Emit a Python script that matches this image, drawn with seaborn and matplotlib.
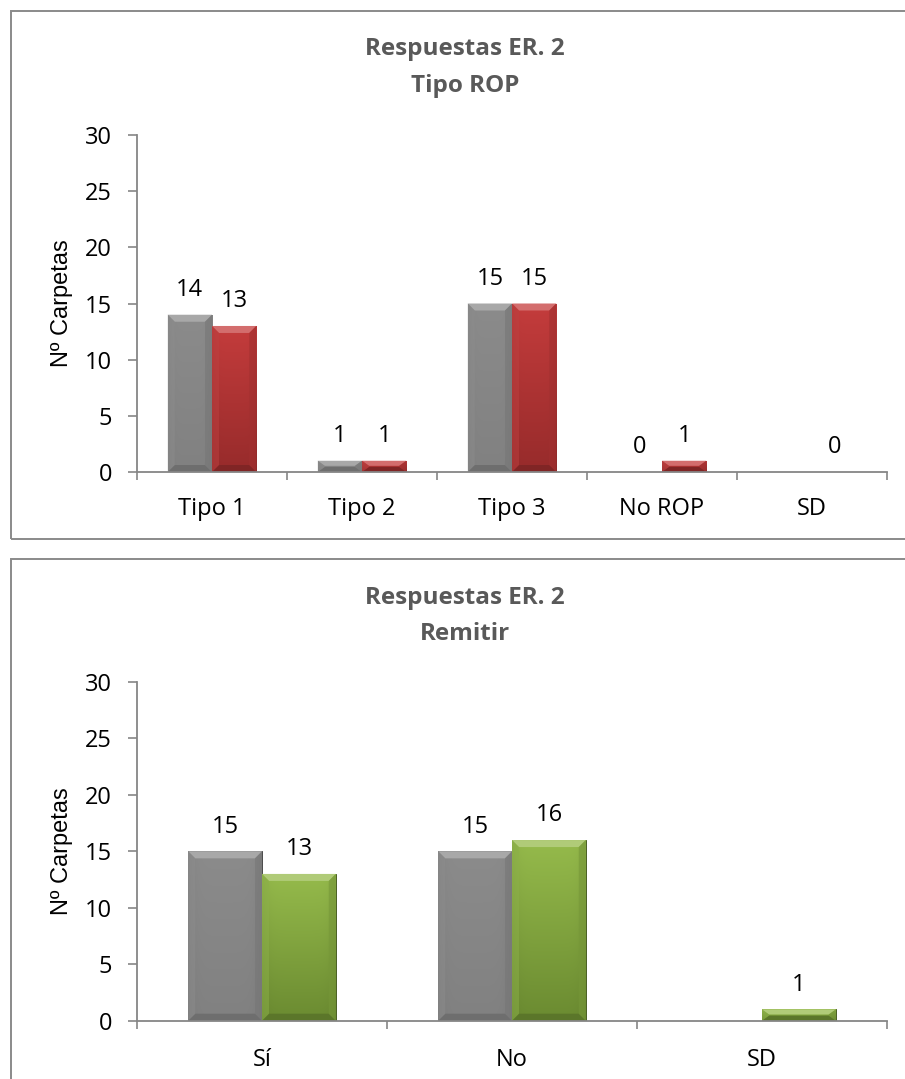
import numpy as np
import pandas as pd
import matplotlib
matplotlib.use("Agg")
import matplotlib.pyplot as plt
from matplotlib.patches import Rectangle, Polygon
from matplotlib.colors import to_rgb
import seaborn as sns

# ---- data -------------------------------------------------------------
series_levels = ["Serie 1", "Serie 2"]

rop_title = ["Respuestas ER. 2", "Tipo ROP"]
rop_categories = ["Tipo 1", "Tipo 2", "Tipo 3", "No ROP", "SD"]
rop_serie_1 = [14, 1, 15, 0, None]
rop_serie_2 = [13, 1, 15, 1, 0]

rem_title = ["Respuestas ER. 2", "Remitir"]
rem_categories = ["Sí", "No", "SD"]
rem_serie_1 = [15, 15, None]
rem_serie_2 = [13, 16, 1]

y_ticks = [0, 5, 10, 15, 20, 25, 30]
y_label = "Nº Carpetas"

# ---- style ------------------------------------------------------------
sns.set_theme(style="white")
plt.rcParams["font.family"] = ["Open Sans", "DejaVu Sans"]

AXIS_GREY = "#868686"
BOX_GREY = "#8a8a8a"
TITLE_GREY = "#595959"
# base colour, gradient top, gradient bottom
GREY_BAR = ("#878787", "#8b8b8b", "#818181")
RED_BAR = ("#b83737", "#c43c3c", "#972b2b")
GREEN_BAR = ("#86ac40", "#95ba4b", "#6b8b31")

W, H = 905, 1079
fig = plt.figure(figsize=(W / 100, H / 100), dpi=100)
fig.patch.set_facecolor("white")


def long_frame(categories, s1, s2):
    rows = []
    for cat, a, b in zip(categories, s1, s2):
        if a is not None:
            rows.append((cat, series_levels[0], a))
        if b is not None:
            rows.append((cat, series_levels[1], b))
    return pd.DataFrame(rows, columns=["categoria", "serie", "valor"])


def mix(c, other, t):
    c = np.array(to_rgb(c))
    o = np.array(to_rgb(other))
    return tuple(c * (1 - t) + o * t)


def shade_bar(ax, bar, style, px_x, px_y):
    base, c_top, c_bot = style
    x0, w, h = bar.get_x(), bar.get_width(), bar.get_height()
    if not h or h <= 0:
        return
    top = np.array(to_rgb(c_top))
    bottom = np.array(to_rgb(c_bot))
    t = np.linspace(0, 1, 64)[:, None, None]
    u = np.linspace(-1, 1, 32)[None, :, None]
    img = (top * (1 - t) + bottom * t) * (1 - 0.06 * np.abs(u) ** 6)
    im = ax.imshow(img, extent=(x0, x0 + w, 0, h), origin="upper",
                   aspect="auto", interpolation="bilinear",
                   zorder=bar.get_zorder() + 0.1)
    im.set_clip_path(bar)
    dx = 7 / px_x
    dy = min(7 / px_y, h * 0.45)
    z = bar.get_zorder() + 0.2
    ax.add_patch(Polygon([(x0, h), (x0 + w, h), (x0 + w - dx, h - dy), (x0 + dx, h - dy)],
                         closed=True, facecolor=mix(c_top, "white", 0.25), edgecolor="none", zorder=z))
    ax.add_patch(Polygon([(x0, 0), (x0 + w, 0), (x0 + w - dx, dy), (x0 + dx, dy)],
                         closed=True, facecolor=mix(c_bot, "black", 0.15), edgecolor="none", zorder=z))
    ax.add_patch(Polygon([(x0, 0), (x0, h), (x0 + dx, h - dy), (x0 + dx, dy)],
                         closed=True, facecolor=mix(base, "white", 0.05), edgecolor="none", zorder=z, alpha=0.5))
    ax.add_patch(Polygon([(x0 + w, 0), (x0 + w, h), (x0 + w - dx, h - dy), (x0 + w - dx, dy)],
                         closed=True, facecolor=mix(base, "black", 0.12), edgecolor="none", zorder=z, alpha=0.6))
    bar.set_edgecolor(mix(base, "black", 0.45))
    bar.set_linewidth(0.7)


def draw_panel(rect, categories, s1, s2, styles, xpad):
    ax = fig.add_axes(rect)
    df = long_frame(categories, s1, s2)
    sns.barplot(data=df, x="categoria", y="valor", hue="serie",
                order=categories, hue_order=series_levels,
                palette=dict(zip(series_levels, [s[0] for s in styles])), saturation=1,
                width=0.59, errorbar=None, legend=False, ax=ax)
    n = len(categories)
    ax.set_xlim(-0.5, n - 0.5)
    ax.set_ylim(0, 30)
    ax.set_yticks(y_ticks)
    ax.set_xticks(np.arange(n))
    ax.set_xticks(np.arange(n + 1) - 0.5, minor=True)
    ax.set_xticklabels(categories)
    ax.set_xlabel("")
    ax.set_ylabel(y_label, family=["Liberation Sans", "DejaVu Sans"],
                  fontsize=17, color="black", va="center")
    ax.yaxis.set_label_coords(-0.1, 0.5)

    for side in ("top", "right"):
        ax.spines[side].set_visible(False)
    for side in ("left", "bottom"):
        ax.spines[side].set_color(AXIS_GREY)
        ax.spines[side].set_linewidth(1.3)
    ax.tick_params(axis="y", which="major", direction="out", length=6.5, width=1.2,
                   color=AXIS_GREY, labelsize=17, labelcolor="black", pad=11.5, left=True)
    ax.tick_params(axis="x", which="major", length=0, labelsize=17,
                   labelcolor="black", pad=xpad)
    ax.tick_params(axis="x", which="minor", direction="out", length=5.5, width=1.2,
                   color=AXIS_GREY, bottom=True)
    ax.grid(False)

    fig.canvas.draw()
    bbox = ax.get_window_extent()
    px_x = bbox.width / n
    px_y = bbox.height / 30

    for container, style in zip(ax.containers, styles):
        for bar, val in zip(container, container.datavalues):
            shade_bar(ax, bar, style, px_x, px_y)
            ax.annotate(f"{int(val)}", (bar.get_x() + bar.get_width() / 2, val),
                        xytext=(0, 13.5), textcoords="offset points",
                        ha="center", va="baseline", fontsize=17, color="black",
                        annotation_clip=False)
    ax.set_xlim(-0.5, n - 0.5)
    ax.set_ylim(0, 30)
    return ax


# top panel: Tipo ROP
draw_panel([137 / W, 1 - 472 / H, 750 / W, 337 / H],
           rop_categories, rop_serie_1, rop_serie_2,
           [GREY_BAR, RED_BAR], xpad=18)
# bottom panel: Remitir
draw_panel([137 / W, 1 - 1020.7 / H, 750 / W, 338.7 / H],
           rem_categories, rem_serie_1, rem_serie_2,
           [GREY_BAR, GREEN_BAR], xpad=20)

# chart titles
for (line, ypx) in zip(rop_title, (49, 86)):
    fig.text(465 / W, 1 - ypx / H, line, ha="center", va="center",
             fontsize=17.5, fontweight="bold", color=TITLE_GREY)
for (line, ypx) in zip(rem_title, (598, 634)):
    fig.text(465 / W, 1 - ypx / H, line, ha="center", va="center",
             fontsize=17.5, fontweight="bold", color=TITLE_GREY)

# chart frames
fig.add_artist(Rectangle((11 / W, 1 - 539 / H), 1.2, 528 / H,
                         transform=fig.transFigure, fill=False,
                         edgecolor=BOX_GREY, linewidth=1.4, clip_on=False))
fig.add_artist(Rectangle((11 / W, -0.2), 1.2, 0.2 + 1 - 559 / H,
                         transform=fig.transFigure, fill=False,
                         edgecolor=BOX_GREY, linewidth=1.4, clip_on=False))

fig.savefig("out.png", dpi=100, facecolor="white")
